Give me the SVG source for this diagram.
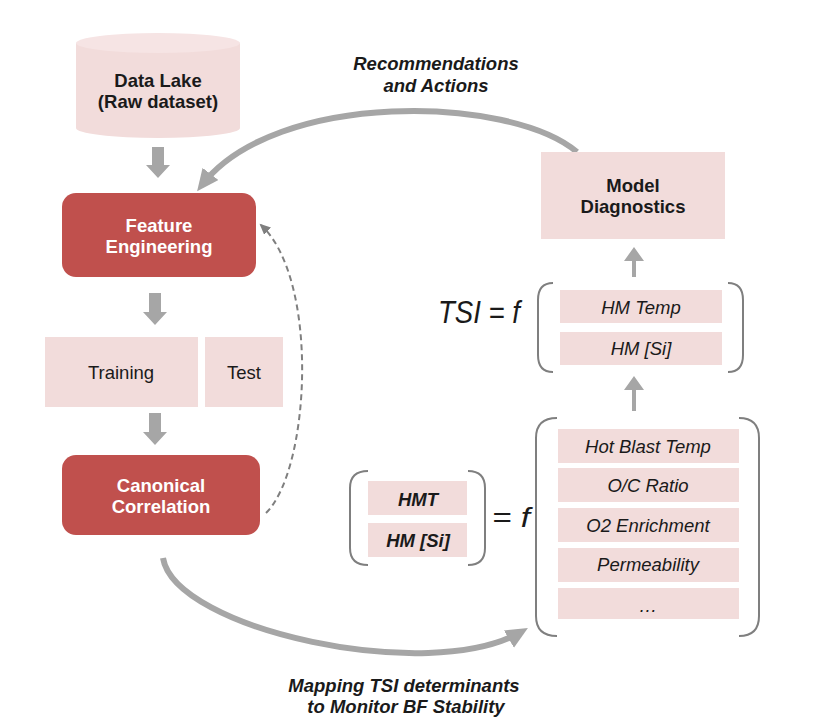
<svg xmlns="http://www.w3.org/2000/svg" width="832" height="722" viewBox="0 0 832 722">
<style>
text{font-family:"Liberation Sans",Arial,sans-serif;font-size:18.5px;fill:#1a1a1a;text-anchor:middle}
.b{font-weight:bold}
.i{font-style:italic}
.w{fill:#ffffff;font-weight:bold}
.red{fill:#c0504d}
.pink{fill:#f2dcdb}
.blk{fill:#a6a6a6}
.brk{fill:none;stroke:#7f7f7f;stroke-width:2}
.arc{fill:none;stroke:#a6a6a6;stroke-width:6}
.dash{fill:none;stroke:#7f7f7f;stroke-width:2;stroke-dasharray:6 4}
</style>
<defs>
<marker id="big" markerUnits="userSpaceOnUse" markerWidth="24" markerHeight="22" refX="14" refY="10" orient="auto">
<path d="M0,0 L22,10 L0,20 z" fill="#a6a6a6"/>
</marker>
<marker id="small" markerUnits="userSpaceOnUse" markerWidth="14" markerHeight="12" refX="9" refY="5" orient="auto">
<path d="M0,0 L11,5 L0,10 z" fill="#7f7f7f"/>
</marker>
</defs>
<rect width="832" height="722" fill="#ffffff"/>

<g id="connectors">
<path class="arc" d="M577,152 C510,95 275,90 202,185" marker-end="url(#big)"/>
<path class="arc" d="M163,558 C175,630 430,685 521,632" marker-end="url(#big)"/>
<path class="dash" d="M266,513 C310,470 320,280 261,225" marker-end="url(#small)"/>
<path class="blk" d="M152,147 H164 V165 H170 L158,178 L146,165 H152 z"/>
<path class="blk" d="M149,293 H161 V312 H167 L155,325 L143,312 H149 z"/>
<path class="blk" d="M149,413 H161 V432 H167 L155,445 L143,432 H149 z"/>
<path class="blk" d="M632,277 V261 H624 L634,247 L644,261 H636 V277 z"/>
<path class="blk" d="M632,411 V390 H624 L634,376 L644,390 H636 V411 z"/>
</g>

<g id="data-lake">
<path class="pink" d="M76,43 V128 A82,10 0 0 0 240,128 V43 z"/>
<ellipse cx="158" cy="43" rx="82" ry="10" fill="#f6e4e4"/>
<text class="b" x="158" y="87">Data Lake</text>
<text class="b" x="158" y="108">(Raw dataset)</text>
</g>

<g id="feature-engineering">
<rect class="red" x="62" y="193" width="194" height="84" rx="14"/>
<text class="w" x="159" y="232">Feature</text>
<text class="w" x="159" y="253">Engineering</text>
</g>

<g id="training">
<rect class="pink" x="45" y="337" width="153" height="70"/>
<text x="121" y="379">Training</text>
</g>

<g id="test">
<rect class="pink" x="205" y="337" width="78" height="70"/>
<text x="244" y="379">Test</text>
</g>

<g id="canonical-correlation">
<rect class="red" x="62" y="455" width="198" height="80" rx="14"/>
<text class="w" x="161" y="492">Canonical</text>
<text class="w" x="161" y="513">Correlation</text>
</g>

<g id="label-recommendations">
<text class="b i" x="436" y="70">Recommendations</text>
<text class="b i" x="436" y="92">and Actions</text>
</g>

<g id="model-diagnostics">
<rect class="pink" x="541" y="152" width="184" height="87"/>
<text class="b" x="633" y="192">Model</text>
<text class="b" x="633" y="213">Diagnostics</text>
</g>

<g id="tsi-function">
<text class="i" x="479" y="323" font-size="31" textLength="82" lengthAdjust="spacingAndGlyphs" style="font-size:31px">TSI = f</text>
<path class="brk" d="M553,283 Q538,283 538,300 V355 Q538,372 553,372"/>
<path class="brk" d="M728,283 Q743,283 743,300 V355 Q743,372 728,372"/>
<rect class="pink" x="560" y="290" width="162" height="33"/>
<text class="i" x="641" y="314">HM Temp</text>
<rect class="pink" x="560" y="332" width="162" height="33"/>
<text class="i" x="641" y="355">HM [Si]</text>
</g>

<g id="outputs">
<path class="brk" d="M368,471 Q350,471 350,488 V548 Q350,565 368,565"/>
<path class="brk" d="M468,471 Q485,471 485,488 V548 Q485,565 468,565"/>
<rect class="pink" x="368" y="481" width="99" height="34"/>
<text class="b i" x="418" y="506">HMT</text>
<rect class="pink" x="368" y="523" width="99" height="34"/>
<text class="b i" x="418" y="547">HM [Si]</text>
<text class="i" x="511" y="527" style="font-size:28px" textLength="38" lengthAdjust="spacingAndGlyphs">= f</text>
</g>

<g id="inputs">
<path class="brk" d="M557,418 Q536,418 536,438 V616 Q536,636 557,636"/>
<path class="brk" d="M739,418 Q759,418 759,438 V616 Q759,636 739,636"/>
<rect class="pink" x="558" y="429" width="181" height="34"/>
<text class="i" x="648" y="453">Hot Blast Temp</text>
<rect class="pink" x="558" y="468" width="181" height="34"/>
<text class="i" x="648" y="492">O/C Ratio</text>
<rect class="pink" x="558" y="508" width="181" height="34"/>
<text class="i" x="648" y="532">O2 Enrichment</text>
<rect class="pink" x="558" y="548" width="181" height="34"/>
<text class="i" x="648" y="571">Permeability</text>
<rect class="pink" x="558" y="588" width="181" height="31"/>
<text class="i" x="648" y="612">…</text>
</g>

<g id="label-mapping">
<text class="b i" x="404" y="692">Mapping TSI determinants</text>
<text class="b i" x="406" y="713">to Monitor BF Stability</text>
</g>
</svg>
